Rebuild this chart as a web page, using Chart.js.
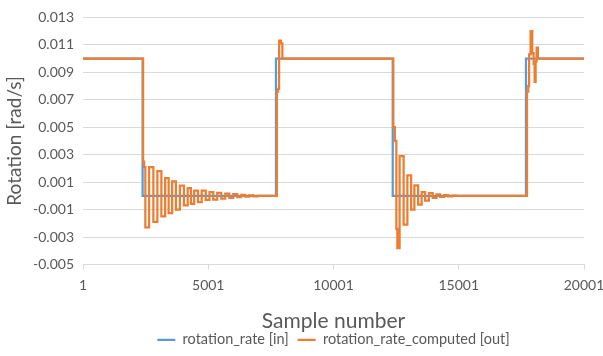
<!DOCTYPE html>
<html>
<head>
<meta charset="utf-8">
<script src="https://cdn.jsdelivr.net/npm/chart.js@4"></script>
<style>
  html, body { margin: 0; padding: 0; background: #fff; }
  #wrap { width: 603px; height: 356px; }
</style>
</head>
<body>
<div id="wrap"><canvas id="rateChart" width="603" height="356"></canvas></div>
<script>
// ---- data ----
const xTicks = [1, 5001, 10001, 15001, 20001];
const yTicks = [-0.005, -0.003, -0.001, 0.001, 0.003, 0.005, 0.007, 0.009, 0.011, 0.013];

// input: sample where each level starts
const inSamples = [1, 2380, 7705, 12365, 17685, 20001];
const inValues  = [0.01, 0, 0.01, 0, 0.01, 0.01];

// computed output: sample where each held value starts
const outSamples = [
  1, 2400, 2440, 2490, 2640, 2810, 2970, 3130, 3280, 3420, 3560, 3710, 3870, 4030,
  4180, 4310, 4440, 4590, 4740, 4900, 5050, 5200, 5360, 5520, 5680, 5840, 6000,
  6160, 6320, 6480, 6640, 6800, 6960,
  7740, 7790, 7830, 7900, 7960,
  12390, 12450, 12510, 12550, 12640, 12800, 12950, 13100, 13230, 13380, 13520,
  13660, 13810, 13960, 14110, 14260, 14420, 14580, 14740, 14900,
  17725, 17775, 17810, 17870, 17935, 17990, 18030, 18070, 18110, 18160, 20001
];
const outValues = [
  0.01, 0.0025, 0.0021, -0.0023, 0.0021, -0.0019, 0.0018, -0.0015, 0.0013, -0.00125, 0.00106, -0.0010, 0.00074, -0.0007,
  0.00057, -0.00059, 0.00038, -0.00045, 0.00038, -0.0003, 0.00028, -0.00027, 0.00022, -0.0002, 0.00017, -0.00015, 0.00012,
  -0.0001, 0.00008, -0.00006, 0.00004, -0.00003, 0,
  0.0076, 0.0078, 0.0113, 0.0111, 0.01,
  0.005, 0.004, -0.0024, -0.0038, 0.0029, -0.0021, 0.0015, -0.0010, 0.00076, -0.00064, 0.00028,
  -0.00035, 0.0002, -0.00015, 0.0001, -0.00008, 0.00005, -0.00003, 0.00002, 0,
  0.0076, 0.008, 0.0103, 0.012, 0.0104, 0.0096, 0.0083, 0.0098, 0.0108, 0.01, 0.01
];

const toPoints = (xs, ys) => xs.map((x, i) => ({ x: x, y: ys[i] }));

const textColor = '#595959';
const gridColor = '#D9D9D9';
const fontFamily = 'Lato, "Liberation Sans", sans-serif';

new Chart(document.getElementById('rateChart'), {
  type: 'line',
  data: {
    datasets: [{
      label: 'rotation_rate [in]',
      data: toPoints(inSamples, inValues),
      borderColor: '#5B9BD5',
      backgroundColor: '#5B9BD5',
      borderWidth: 2.25,
      pointRadius: 0,
      stepped: true,
      order: 1
    }, {
      label: 'rotation_rate_computed [out]',
      data: toPoints(outSamples, outValues),
      borderColor: '#ED7D31',
      backgroundColor: '#ED7D31',
      borderWidth: 2.25,
      pointRadius: 0,
      stepped: true,
      order: 0
    }]
  },
  options: {
    responsive: false,
    animation: false,
    layout: { padding: { left: 0, right: 19, top: 14, bottom: -1 } },
    plugins: {
      tooltip: { enabled: false },
      legend: {
        position: 'bottom',
        fullSize: false,
        labels: {
          color: textColor,
          font: { family: fontFamily, size: 14.5 },
          boxWidth: 18,
          boxHeight: 0,
          padding: 9,
          sort: (a, b) => a.datasetIndex - b.datasetIndex
        }
      }
    },
    scales: {
      x: {
        type: 'linear',
        min: 1,
        max: 20001,
        afterBuildTicks: axis => { axis.ticks = xTicks.map(v => ({ value: v })); },
        afterFit: axis => {
          axis.height = 59;
          axis.paddingLeft = 0;
          axis.paddingRight = 0;
        },
        ticks: {
          color: textColor,
          font: { family: fontFamily, size: 14 },
          padding: 8,
          maxRotation: 0,
          autoSkip: false,
          callback: v => String(v)
        },
        grid: { drawOnChartArea: false, drawTicks: true, tickLength: 5, color: gridColor },
        border: { color: gridColor, width: 1 },
        title: {
          display: true,
          text: 'Sample number',
          color: textColor,
          font: { family: fontFamily, size: 21, lineHeight: 1 },
          padding: { top: 0, bottom: -8 }
        }
      },
      y: {
        min: -0.005,
        max: 0.013,
        afterBuildTicks: axis => { axis.ticks = yTicks.map(v => ({ value: v })); },
        afterFit: axis => { axis.width = 83; },
        ticks: {
          color: textColor,
          font: { family: fontFamily, size: 14 },
          padding: 9,
          autoSkip: false,
          callback: v => Number(v).toFixed(3)
        },
        grid: { color: gridColor, drawTicks: false },
        border: { display: false },
        title: {
          display: true,
          text: 'Rotation [rad/s]',
          color: textColor,
          font: { family: fontFamily, size: 19, lineHeight: 1.2 },
          padding: { top: 3, bottom: 0 }
        }
      }
    }
  }
});
</script>
</body>
</html>
